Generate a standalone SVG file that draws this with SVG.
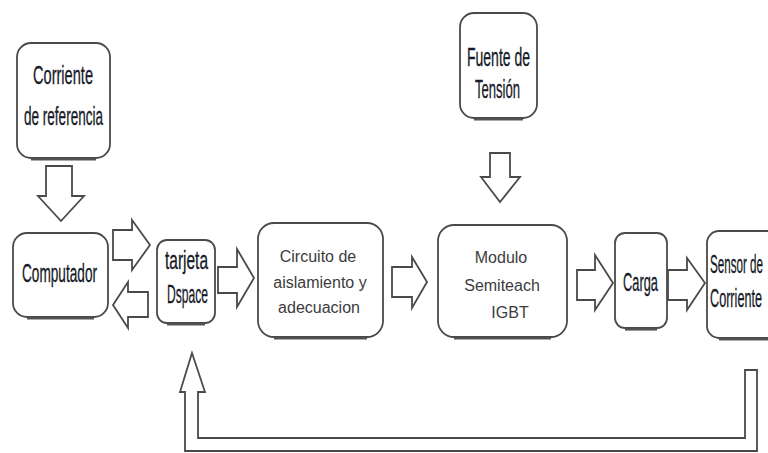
<svg xmlns="http://www.w3.org/2000/svg" width="768" height="453" viewBox="0 0 768 453">
<style>
.box{fill:#fff;stroke:#4a4a4a;stroke-width:1.8}
.sh{fill:none;stroke:#555;stroke-width:2.2}
.arr{fill:#fff;stroke:#4a4a4a;stroke-width:1.8;stroke-linejoin:miter}
.c{font-family:"Liberation Sans Narrow","Liberation Sans",Arial,sans-serif;fill:#161a28;font-size:25px;stroke:#161a28;stroke-width:0.3}
.n{font-family:"Liberation Sans",Arial,sans-serif;fill:#3c3c3c;font-size:16px;text-anchor:middle}
</style>
<rect width="768" height="453" fill="#fff"/>
<g id="corriente-ref">
<rect class="box" x="17" y="43" width="93" height="115" rx="14"/>
<line class="sh" x1="31" y1="159.5" x2="96" y2="159.5"/>
<text class="c" x="33" y="84" font-size="28" textLength="60" lengthAdjust="spacingAndGlyphs">Corriente</text>
<text class="c" x="24" y="125" font-size="27" textLength="79" lengthAdjust="spacingAndGlyphs">de referencia</text>
</g>
<g id="computador">
<rect class="box" x="13" y="233" width="95" height="84" rx="14"/>
<line class="sh" x1="27" y1="318.5" x2="94" y2="318.5"/>
<text class="c" x="22" y="282" textLength="75" lengthAdjust="spacingAndGlyphs">Computador</text>
</g>
<g id="tarjeta">
<rect class="box" x="157" y="240" width="58" height="83" rx="10"/>
<line class="sh" x1="167" y1="324.5" x2="205" y2="324.5"/>
<text class="c" x="165" y="269" font-size="26" textLength="43" lengthAdjust="spacingAndGlyphs">tarjeta</text>
<text class="c" x="167" y="303" font-size="26" textLength="41" lengthAdjust="spacingAndGlyphs">Dspace</text>
</g>
<g id="circuito">
<rect class="box" x="258" y="223" width="125" height="114" rx="16"/>
<line class="sh" x1="274" y1="338.5" x2="367" y2="338.5"/>
<text class="n" x="318" y="262">Circuito de</text>
<text class="n" x="320" y="288">aislamiento y</text>
<text class="n" x="319" y="313">adecuacion</text>
</g>
<g id="fuente">
<rect class="box" x="460" y="13" width="77" height="105" rx="14"/>
<line class="sh" x1="474" y1="119.5" x2="523" y2="119.5"/>
<text class="c" x="467" y="66" font-size="29" textLength="63" lengthAdjust="spacingAndGlyphs">Fuente de</text>
<text class="c" x="475" y="98" font-size="29" textLength="45" lengthAdjust="spacingAndGlyphs">Tensión</text>
</g>
<g id="modulo">
<rect class="box" x="438" y="225" width="129" height="112" rx="16"/>
<line class="sh" x1="454" y1="338.5" x2="551" y2="338.5"/>
<text class="n" x="501" y="263" font-size="20">Modulo</text>
<text class="n" x="502" y="291" font-size="20">Semiteach</text>
<text class="n" x="510" y="318" font-size="20">IGBT</text>
</g>
<g id="carga">
<rect class="box" x="615" y="233" width="52" height="95" rx="10"/>
<line class="sh" x1="625" y1="329.5" x2="657" y2="329.5"/>
<text class="c" x="623" y="291" font-size="24" textLength="35" lengthAdjust="spacingAndGlyphs">Carga</text>
</g>
<g id="sensor">
<rect class="box" x="707" y="231" width="80" height="107" rx="12"/>
<line class="sh" x1="719" y1="339.5" x2="770" y2="339.5"/>
<text class="c" x="710" y="273" textLength="53" lengthAdjust="spacingAndGlyphs">Sensor de</text>
<text class="c" x="710" y="307" textLength="52" lengthAdjust="spacingAndGlyphs">Corriente</text>
</g>
<g id="connectors">
<polygon class="arr" points="46,166 72,166 72,196 84,196 61,221 38,196 46,196"/>
<polygon class="arr" points="113,230 132,230 132,220 150,245 132,270 132,260 113,260"/>
<polygon class="arr" points="148,292 128,292 128,282 113,305 128,328 128,317 148,317"/>
<polygon class="arr" points="218,267 237,267 237,249 254,278 237,307 237,293 218,293"/>
<polygon class="arr" points="392,267 412,267 412,257 427,282 412,308 412,297 392,297"/>
<polygon class="arr" points="490,153 510,153 510,177 520,177 500,202 481,177 490,177"/>
<polygon class="arr" points="577,270 595,270 595,255 613,283 595,310 595,300 577,300"/>
<polygon class="arr" points="668,270 687,270 687,258 705,283 687,310 687,300 668,300"/>
<polygon class="arr" points="192,353 205,392 198,392 198,438 745,438 745,370 757,370 757,451 185,451 185,392 180,392"/>
</g>
</svg>
